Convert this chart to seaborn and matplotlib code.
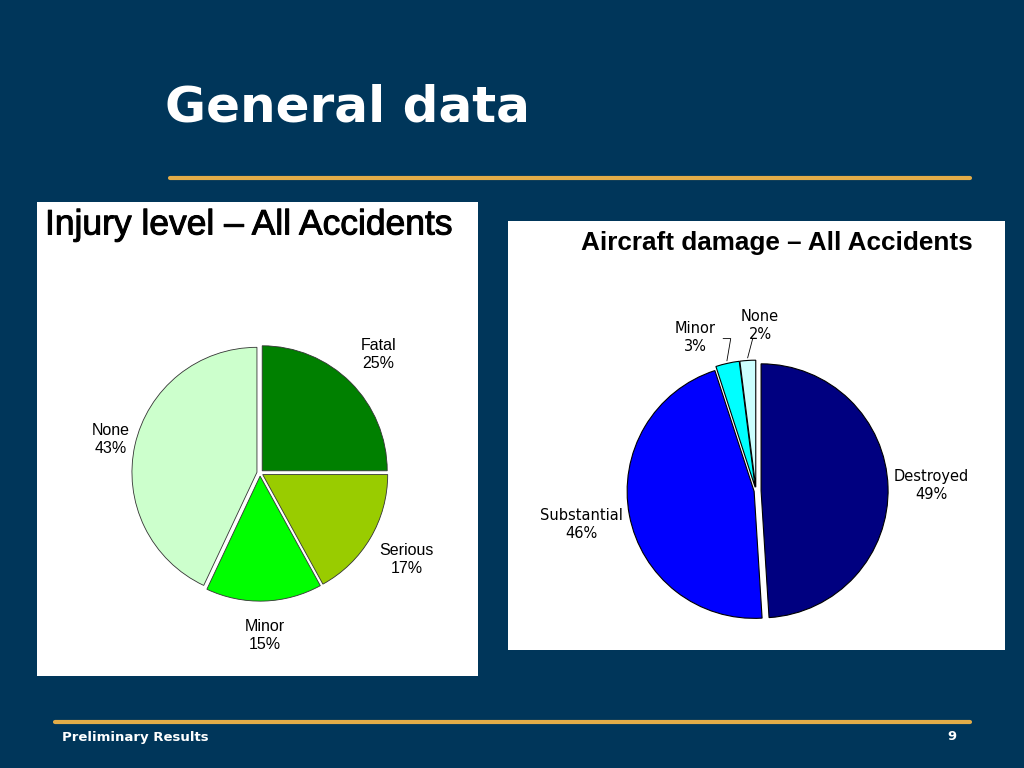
import matplotlib
matplotlib.use("Agg")
import matplotlib.pyplot as plt
import matplotlib.patheffects as pe
from matplotlib.patches import Rectangle
import numpy as np
import seaborn as sns

# data
injury_labels = ["Fatal", "Serious", "Minor", "None"]
injury_pct = [25, 17, 15, 43]
injury_colors = ["#008000", "#99cc00", "#00ff00", "#ccffcc"]

damage_labels = ["Destroyed", "Substantial", "Minor", "None"]
damage_pct = [49, 46, 3, 2]
damage_colors = ["#000080", "#0000ff", "#00ffff", "#ccffff"]

W, H = 1024, 768
NAVY = "#00365a"
GOLD = "#e3ac48"

sns.set_style("white")
plt.rcParams["font.family"] = ["Liberation Sans", "DejaVu Sans"]
plt.rcParams["text.color"] = "black"

fig = plt.figure(figsize=(W / 100, H / 100), dpi=100, facecolor=NAVY)


def fx(x):
    return x / W


def fy(y):
    return 1 - y / H


def pie_axes(cx, cy, r, lim=1.7):
    half = lim * r
    ax = fig.add_axes([fx(cx - half), fy(cy + half), 2 * half / W, 2 * half / H])
    return ax


# slide decoration
fig.text(fx(165), fy(108), "General data", color="white", fontsize=36,
         fontweight="bold", family="DejaVu Sans", va="center", ha="left")
fig.add_artist(plt.Line2D([fx(170), fx(970)], [fy(178), fy(178)], color=GOLD, lw=3))
fig.add_artist(plt.Line2D([fx(55), fx(970)], [fy(722), fy(722)], color=GOLD, lw=3))
fig.text(fx(62), fy(737), "Preliminary Results", color="white", fontsize=9.5,
         fontweight="bold", family="DejaVu Sans", va="center", ha="left")
fig.text(fx(957), fy(737), "9", color="white", fontsize=9.5,
         fontweight="bold", family="DejaVu Sans", va="center", ha="right")

# white panels (behind the pie axes)
fig.add_artist(Rectangle((fx(37), fy(676)), (478 - 37) / W, (676 - 202) / H,
                         transform=fig.transFigure, facecolor="white",
                         edgecolor="none", zorder=-5))
fig.add_artist(Rectangle((fx(508), fy(650)), (1005 - 508) / W, (650 - 221) / H,
                         transform=fig.transFigure, facecolor="white",
                         edgecolor="none", zorder=-5))

fig.text(fx(45), fy(225), "Injury level \u2013 All Accidents", color="black",
         fontsize=25.5, va="center", ha="left",
         path_effects=[pe.withStroke(linewidth=0.7, foreground="black")])
fig.text(fx(777), fy(243), "Aircraft damage \u2013 All Accidents", color="black",
         fontsize=18.8, fontweight="bold", va="center", ha="center")

# left pie
ax1 = pie_axes(260, 473, 125)
wedges1, _ = ax1.pie(injury_pct, colors=injury_colors, startangle=90,
                     counterclock=False, explode=[0.025] * 4,
                     wedgeprops=dict(edgecolor="#333333", linewidth=0.6))
dist1 = [1.34, 1.36, 1.30, 1.22]
for w, lab, p, d in zip(wedges1, injury_labels, injury_pct, dist1):
    ang = np.deg2rad((w.theta1 + w.theta2) / 2)
    ax1.text(d * np.cos(ang), d * np.sin(ang), f"{lab}\n{p}%", ha="center",
             va="center", fontsize=11.5, linespacing=1.25)
ax1.set_xlim(-1.7, 1.7)
ax1.set_ylim(-1.7, 1.7)
ax1.axis("off")

# right pie
ax2 = pie_axes(756, 491, 127)
wedges2, _ = ax2.pie(damage_pct, colors=damage_colors, startangle=90,
                     counterclock=False, explode=[0.04, 0.015, 0.03, 0.03],
                     wedgeprops=dict(edgecolor="black", linewidth=0.8))
dist2 = [1.38, 1.40, 1.30, 1.30]
shift2 = [0, 0, 9, -5]
for w, lab, p, d, s in zip(wedges2, damage_labels, damage_pct, dist2, shift2):
    mid = (w.theta1 + w.theta2) / 2
    ang = np.deg2rad(mid + s)
    tx, ty = d * np.cos(ang), d * np.sin(ang)
    ax2.text(tx, ty, f"{lab}\n{p}%", ha="center", va="center",
             fontsize=10.5, family="DejaVu Sans", linespacing=1.25)
    if s != 0:
        m = np.deg2rad(mid)
        ex, ey = 1.05 * np.cos(m), 1.05 * np.sin(m)
        ky = 1.2
        kx = ex + (0.03 if s > 0 else 0.04)
        hx = kx - 0.06 if s > 0 else kx
        ax2.plot([ex, kx, hx], [ey, ky, ky], color="black", lw=0.6)
ax2.set_xlim(-1.7, 1.7)
ax2.set_ylim(-1.7, 1.7)
ax2.axis("off")

fig.savefig("out.png", dpi=100, facecolor=NAVY)
